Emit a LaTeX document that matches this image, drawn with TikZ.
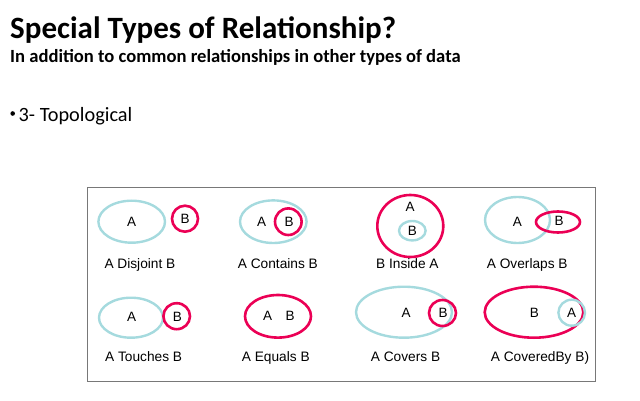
\documentclass[tikz,border=0pt]{standalone}
\usepackage{fontspec}
\usetikzlibrary{shapes.geometric}
\setmainfont{Liberation Sans}
\newfontfamily\calfont{Carlito}
\definecolor{tealc}{RGB}{165,218,222}
\definecolor{redc}{RGB}{235,0,85}
\definecolor{framec}{RGB}{120,120,120}
\begin{document}
\begin{tikzpicture}[x=1pt,y=-1pt,
  tealell/.style={draw=tealc,line width=2.4pt,ellipse,inner sep=0pt},
  redell/.style={draw=redc,line width=2.6pt,ellipse,inner sep=0pt},
  letter/.style={font=\fontsize{13.5}{14}\selectfont,inner sep=0pt,anchor=center},
  lbl/.style={font=\fontsize{13.7}{14}\selectfont,inner sep=0pt,anchor=base west}]
\useasboundingbox (0,0) rectangle (640,401);
% header
\node[anchor=base west,inner sep=0pt,font=\calfont\bfseries\fontsize{31}{34}\selectfont] (title) at (10,38.3) {Special Types of Relationship?};
\node[anchor=base west,inner sep=0pt,font=\calfont\bfseries\fontsize{18.6}{20}\selectfont] (sub) at (10,62.5) {In addition to common relationships in other types of data};
\node[anchor=base west,inner sep=0pt,font=\calfont\fontsize{20.3}{22}\selectfont] (bul) at (18.5,121.7) {3- Topological};
\fill (12.7,113.5) circle (2.3) coordinate (dot);
% frame
\node[draw=framec,line width=1pt,inner sep=0pt,minimum width=508pt,minimum height=194pt,anchor=north west] (frame) at (87,187) {};
% Row 1
% Disjoint
\node[tealell,minimum width=66.6pt,minimum height=42pt] (d1A) at (131.7,221.7) {};
\node[redell,minimum width=26pt,minimum height=26pt] (d1B) at (185,218.7) {};
\node[letter] (d1a) at (131.7,221.7) {A};
\node[letter] (d1b) at (185,218.5) {B};
\node[lbl] (d1l) at (104.3,268.3) {A Disjoint B};
% Contains
\node[tealell,minimum width=66.6pt,minimum height=42.6pt] (c1A) at (273.3,221.7) {};
\node[redell,minimum width=26.6pt,minimum height=26.6pt] (c1B) at (288.3,221.7) {};
\node[letter] (c1a) at (261.7,221.7) {A};
\node[letter] (c1b) at (289,221.7) {B};
\node[lbl] (c1l) at (237.7,268.3) {A Contains B};
% Inside
\node[redell,minimum width=66pt,minimum height=62pt] (i1A) at (410.3,226) {};
\node[tealell,minimum width=26.6pt,minimum height=19.4pt] (i1B) at (412.3,230.7) {};
\node[letter] (i1a) at (410,206.7) {A};
\node[letter] (i1b) at (412.3,231) {B};
\node[lbl] (i1l) at (376,268.3) {B Inside A};
% Overlaps
\node[tealell,minimum width=65pt,minimum height=46pt] (o1A) at (517.5,220) {};
\node[redell,minimum width=44pt,minimum height=21pt] (o1B) at (558,222) {};
\node[letter] (o1a) at (517.3,222) {A};
\node[letter] (o1b) at (559,221) {B};
\node[lbl] (o1l) at (486.7,268.3) {A Overlaps B};
% Row 2
% Touches
\node[tealell,minimum width=64pt,minimum height=40pt] (t2A) at (131,317.7) {};
\node[redell,minimum width=26.6pt,minimum height=26pt] (t2B) at (176.7,316.2) {};
\node[letter] (t2a) at (131.7,316.7) {A};
\node[letter] (t2b) at (177.3,316.7) {B};
\node[lbl] (t2l) at (105,361.7) {A Touches B};
% Equals
\node[redell,minimum width=66pt,minimum height=42.6pt] (e2A) at (278,316.3) {};
\node[letter] (e2a) at (267.7,316.3) {A};
\node[letter] (e2b) at (290,316.3) {B};
\node[lbl] (e2l) at (241.7,361.7) {A Equals B};
% Covers
\node[tealell,minimum width=96pt,minimum height=51pt] (v2A) at (404,312.2) {};
\node[redell,minimum width=27pt,minimum height=26pt] (v2B) at (442.5,313) {};
\node[letter] (v2a) at (406,313) {A};
\node[letter] (v2b) at (443,313) {B};
\node[lbl] (v2l) at (370.7,361.7) {A Covers B};
% CoveredBy
\node[redell,minimum width=98.6pt,minimum height=51pt] (b2B) at (534,312.2) {};
\node[tealell,minimum width=26.6pt,minimum height=26pt] (b2A) at (571.7,312.7) {};
\node[letter] (b2b) at (534.3,313) {B};
\node[letter] (b2a) at (571.7,313) {A};
\node[lbl] (b2l) at (490.7,361.7) {A CoveredBy B)};
\end{tikzpicture}
\end{document}
